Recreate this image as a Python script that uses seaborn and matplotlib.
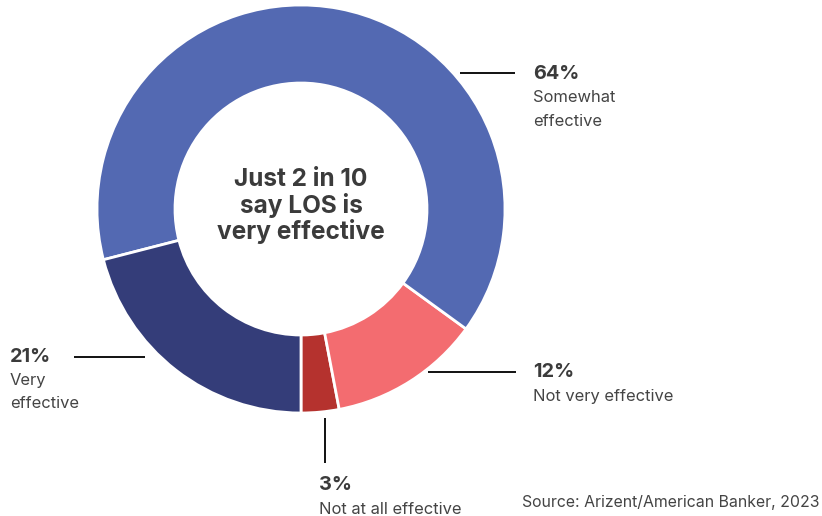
import matplotlib
matplotlib.use("Agg")
import matplotlib.pyplot as plt
import seaborn as sns

# Data (order: counterclockwise from 6 o'clock)
categories = ["Not at all effective", "Not very effective", "Somewhat effective", "Very effective"]
values = [3, 12, 64, 21]
pct_labels = ["3%", "12%", "64%", "21%"]
label_lines = [["Not at all effective"], ["Not very effective"], ["Somewhat", "effective"], ["Very", "effective"]]
colors = ["#B5322E", "#F36C70", "#5369B2", "#343D79"]
center_text = ["Just 2 in 10", "say LOS is", "very effective"]
source = "Source: Arizent/American Banker, 2023"

sns.set_style("white")
plt.rcParams["font.family"] = ["Inter", "DejaVu Sans"]

W, H = 822, 516
fig = plt.figure(figsize=(W / 100, H / 100), dpi=100)
ax = fig.add_axes([0, 0, 1, 1])

def Y(py):
    return H - py

cx, cy, R = 301, 209, 204
ax.pie(values, colors=colors, startangle=-90, counterclock=True,
       center=(cx, Y(cy)), radius=R, frame=True,
       wedgeprops=dict(width=78, edgecolor="white", linewidth=2))
ax.set_xlim(0, W)
ax.set_ylim(0, H)
ax.axis("off")

txt = "#3b3b3b"
lab = "#444444"

# leader lines
lines = {
    "3%": ((325, 418), (325, 463)),
    "12%": ((428, 372), (516, 372)),
    "64%": ((460, 73), (515, 73)),
    "21%": ((74, 357), (145, 357)),
}
for k, ((x0, y0), (x1, y1)) in lines.items():
    ax.plot([x0, x1], [Y(y0), Y(y1)], color="#111111", lw=1.4, solid_capstyle="butt")

label_pos = {
    "3%": (319, 485),
    "12%": (533, 372),
    "64%": (533, 74),
    "21%": (10, 357),
}
for p, lines_txt in zip(pct_labels, label_lines):
    x, y = label_pos[p]
    ax.text(x, Y(y), p, fontsize=14.3, fontweight="bold", color=txt,
            ha="left", va="center")
    for i, t in enumerate(lines_txt):
        ax.text(x, Y(y + 24 + 23 * i), t, fontsize=11.9, color=lab,
                ha="left", va="center")

for i, t in enumerate(center_text):
    ax.text(cx, Y(180 + 26 * i), t, fontsize=17.6, fontweight="bold",
            color=txt, ha="center", va="center")

ax.text(820, Y(503), source, fontsize=11.4, color=lab, ha="right", va="center")

fig.savefig("out.png", dpi=100)
